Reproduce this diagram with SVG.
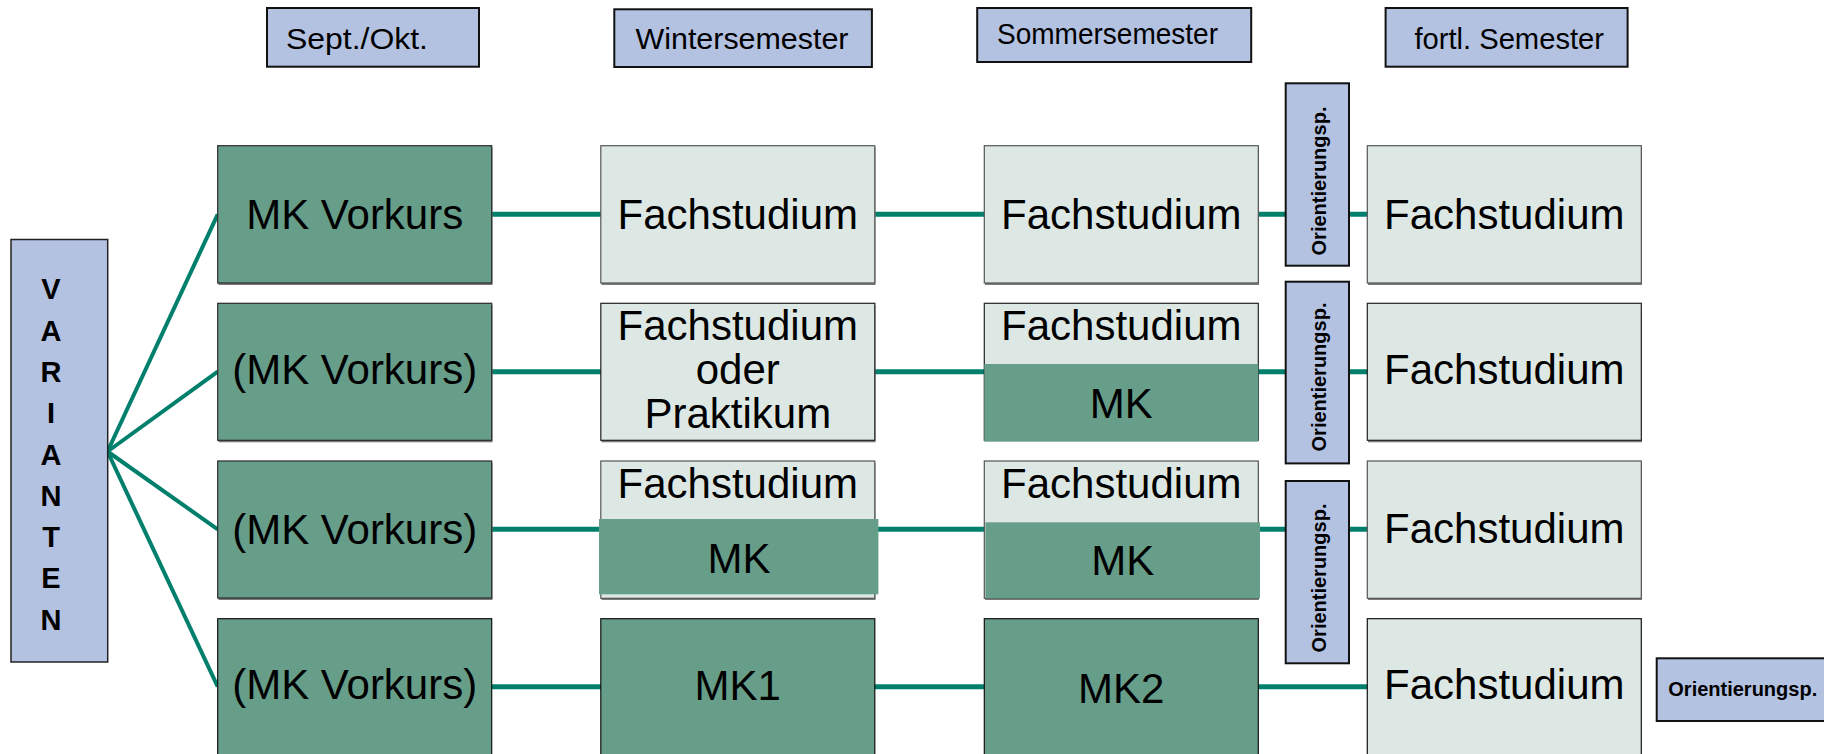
<svg xmlns="http://www.w3.org/2000/svg" width="1824" height="754" viewBox="0 0 1824 754">
<style>
  .hdr{fill:#B4C2E2;stroke:#111;stroke-width:2}
  .blue{fill:#B4C2E2;stroke:#222;stroke-width:1.5}
  .dark{fill:#679E8A;stroke:#2a2a2a;stroke-width:1.2}
  .darkov{fill:#679E8A;stroke:none}
  .light{fill:#DDE8E5;stroke:#555;stroke-width:1.2}
  .sh{fill:#7a7a7a}
  .conn{stroke:#00806C;stroke-width:5;fill:none}
  .fan{stroke:#00806C;stroke-width:4;fill:none}
  .ht{font-family:"Liberation Sans",Arial,sans-serif;font-size:29px;fill:#000}
  .nt{font-family:"Liberation Sans",Arial,sans-serif;font-size:42px;fill:#000;text-anchor:middle}
  .ot{font-family:"Liberation Sans",Arial,sans-serif;font-size:20px;font-weight:bold;fill:#000;text-anchor:middle}
  .vt{font-family:"Liberation Sans",Arial,sans-serif;font-size:29px;font-weight:bold;fill:#000;text-anchor:middle}
</style>
<rect width="1824" height="754" fill="#fff"/>

<g id="connectors">
  <line class="fan" x1="107.5" y1="451.5" x2="217.7" y2="214.3"/>
  <line class="fan" x1="107.5" y1="451.5" x2="217.7" y2="371.7"/>
  <line class="fan" x1="107.5" y1="451.5" x2="217.7" y2="529.3"/>
  <line class="fan" x1="107.5" y1="451.5" x2="217.7" y2="686.7"/>
  <line class="conn" x1="491" y1="214.3" x2="1368" y2="214.3"/>
  <line class="conn" x1="491" y1="371.7" x2="1368" y2="371.7"/>
  <line class="conn" x1="491" y1="529.3" x2="1368" y2="529.3"/>
  <line class="conn" x1="491" y1="686.7" x2="1368" y2="686.7"/>
</g>

<g id="hdr-sept">
  <rect class="hdr" x="267" y="8" width="212" height="58.7"/>
  <text class="ht" x="286" y="49.3" textLength="142" lengthAdjust="spacingAndGlyphs">Sept./Okt.</text>
</g>
<g id="hdr-winter">
  <rect class="hdr" x="614.3" y="9.3" width="257.6" height="57.7"/>
  <text class="ht" x="635.5" y="49.3" textLength="213" lengthAdjust="spacingAndGlyphs">Wintersemester</text>
</g>
<g id="hdr-sommer">
  <rect class="hdr" x="977.2" y="8" width="274" height="54"/>
  <text class="ht" x="997" y="44.3" textLength="221" lengthAdjust="spacingAndGlyphs">Sommersemester</text>
</g>
<g id="hdr-fortl">
  <rect class="hdr" x="1385.6" y="8" width="242" height="58.7"/>
  <text class="ht" x="1414.4" y="49.3" textLength="189.6" lengthAdjust="spacingAndGlyphs">fortl. Semester</text>
</g>

<g id="varianten">
  <rect class="blue" x="11" y="239.5" width="96.7" height="422.5"/>
  <text class="vt" x="51" y="299.3">V</text>
  <text class="vt" x="51" y="340.6">A</text>
  <text class="vt" x="51" y="381.9">R</text>
  <text class="vt" x="51" y="423.2">I</text>
  <text class="vt" x="51" y="464.5">A</text>
  <text class="vt" x="51" y="505.8">N</text>
  <text class="vt" x="51" y="547.1">T</text>
  <text class="vt" x="51" y="588.4">E</text>
  <text class="vt" x="51" y="629.7">N</text>
</g>

<!-- Row 1 -->
<g id="r1-vorkurs">
  <rect class="sh" x="218.5" y="147.5" width="274" height="137.5"/>
  <rect class="dark" x="217.7" y="145.7" width="274" height="137.3"/>
  <text class="nt" x="354.7" y="228.5">MK Vorkurs</text>
</g>
<g id="r1-winter">
  <rect class="sh" x="601.5" y="147.5" width="274" height="137.5"/>
  <rect class="light" x="600.8" y="145.7" width="274" height="137.3"/>
  <text class="nt" x="737.8" y="228.5">Fachstudium</text>
</g>
<g id="r1-sommer">
  <rect class="sh" x="985" y="147.5" width="274" height="137.5"/>
  <rect class="light" x="984.3" y="145.7" width="274" height="137.3"/>
  <text class="nt" x="1121.3" y="228.5">Fachstudium</text>
</g>
<g id="r1-orient">
  <rect class="blue" x="1285.7" y="83.3" width="63.3" height="182.4" style="stroke:#111;stroke-width:2"/>
  <text class="ot" transform="translate(1325.5,181) rotate(-90)">Orientierungsp.</text>
</g>
<g id="r1-fortl">
  <rect class="sh" x="1368" y="147.5" width="274" height="137.5"/>
  <rect class="light" x="1367.3" y="145.7" width="274" height="137.3"/>
  <text class="nt" x="1504.3" y="228.5">Fachstudium</text>
</g>

<!-- Row 2 -->
<g id="r2-vorkurs">
  <rect class="sh" x="218.5" y="305" width="274" height="137.3"/>
  <rect class="dark" x="217.7" y="303.3" width="274" height="137"/>
  <text class="nt" x="354.7" y="384">(MK Vorkurs)</text>
</g>
<g id="r2-winter">
  <rect class="sh" x="601.5" y="305" width="274" height="137.3"/>
  <rect class="light" x="600.8" y="303.3" width="274" height="137" style="stroke:#222"/>
  <text class="nt" x="737.8" y="340">Fachstudium</text>
  <text class="nt" x="737.8" y="383.5">oder</text>
  <text class="nt" x="737.8" y="427.7">Praktikum</text>
</g>
<g id="r2-sommer">
  <rect class="light" x="984.3" y="303.3" width="274" height="137" style="stroke:#222"/>
  <rect class="darkov" x="984.3" y="364" width="274" height="77.7"/>
  <text class="nt" x="1121.3" y="340">Fachstudium</text>
  <text class="nt" x="1121.3" y="417.7">MK</text>
</g>
<g id="r2-orient">
  <rect class="blue" x="1285.7" y="281.7" width="63.3" height="181.7" style="stroke:#111;stroke-width:2"/>
  <text class="ot" transform="translate(1325.5,377) rotate(-90)">Orientierungsp.</text>
</g>
<g id="r2-fortl">
  <rect class="sh" x="1368" y="305" width="274" height="137.3"/>
  <rect class="light" x="1367.3" y="303.3" width="274" height="137" style="stroke:#222"/>
  <text class="nt" x="1504.3" y="384">Fachstudium</text>
</g>

<!-- Row 3 -->
<g id="r3-vorkurs">
  <rect class="sh" x="218.5" y="463" width="274" height="137"/>
  <rect class="dark" x="217.7" y="461" width="274" height="137"/>
  <text class="nt" x="354.7" y="543.5">(MK Vorkurs)</text>
</g>
<g id="r3-winter">
  <rect class="sh" x="601.5" y="463" width="274" height="137"/>
  <rect class="light" x="600.8" y="461" width="274" height="137.3"/>
  <rect class="darkov" x="599" y="519" width="279.4" height="75.3"/>
  <text class="nt" x="737.8" y="498.3">Fachstudium</text>
  <text class="nt" x="739" y="573.3">MK</text>
</g>
<g id="r3-sommer">
  <rect class="sh" x="985" y="463" width="274" height="137"/>
  <rect class="light" x="984.3" y="461" width="274" height="137.3"/>
  <rect class="darkov" x="985.4" y="522.3" width="274.6" height="76"/>
  <text class="nt" x="1121.3" y="498.3">Fachstudium</text>
  <text class="nt" x="1122.7" y="575">MK</text>
</g>
<g id="r3-orient">
  <rect class="blue" x="1285.7" y="481" width="63.3" height="182.3" style="stroke:#111;stroke-width:2"/>
  <text class="ot" transform="translate(1325.5,578) rotate(-90)">Orientierungsp.</text>
</g>
<g id="r3-fortl">
  <rect class="sh" x="1368" y="463" width="274" height="137"/>
  <rect class="light" x="1367.3" y="461" width="274" height="137.3"/>
  <text class="nt" x="1504.3" y="542.5">Fachstudium</text>
</g>

<!-- Row 4 -->
<g id="r4-vorkurs">
  <rect class="dark" x="217.7" y="618.7" width="274" height="137.3" style="stroke:#111"/>
  <text class="nt" x="354.7" y="699">(MK Vorkurs)</text>
</g>
<g id="r4-winter">
  <rect class="dark" x="600.8" y="618.7" width="274" height="137.3" style="stroke:#111"/>
  <text class="nt" x="737.8" y="699.5">MK1</text>
</g>
<g id="r4-sommer">
  <rect class="dark" x="984.3" y="618.7" width="274" height="137.3" style="stroke:#111"/>
  <text class="nt" x="1121.3" y="703">MK2</text>
</g>
<g id="r4-fortl">
  <rect class="light" x="1367.3" y="618.7" width="274" height="137.3" style="stroke:#111"/>
  <text class="nt" x="1504.3" y="698.5">Fachstudium</text>
</g>
<g id="r4-orient">
  <rect class="blue" x="1656.7" y="658.3" width="180" height="62.7" style="stroke:#111;stroke-width:2"/>
  <text class="ot" x="1668.3" y="696" style="text-anchor:start">Orientierungsp.</text>
</g>
</svg>
